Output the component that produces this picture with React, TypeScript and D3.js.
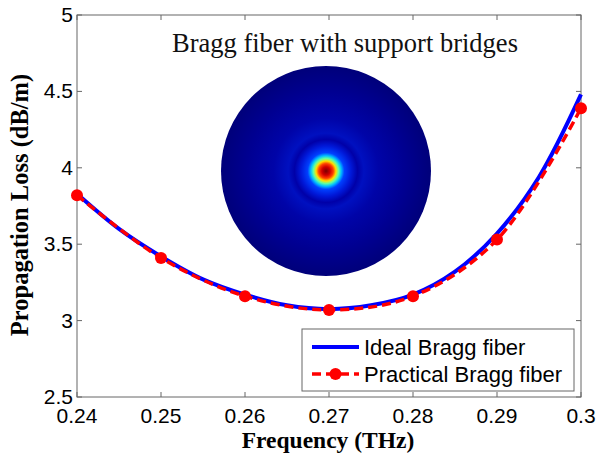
import React from 'react';
import * as d3 from 'd3';

// frequency (THz) and loss (dB/m)
const freq = [0.24, 0.25, 0.26, 0.27, 0.28, 0.29, 0.3];
const practical = [3.82, 3.41, 3.16, 3.07, 3.16, 3.53, 4.39];
const idealFreq = [0.24, 0.245, 0.25, 0.255, 0.26, 0.265, 0.27, 0.275, 0.28, 0.285, 0.29, 0.295, 0.3];
const ideal = [3.83, 3.6, 3.42, 3.27, 3.17, 3.1, 3.075, 3.1, 3.17, 3.32, 3.57, 3.94, 4.48];
const xTicks = [0.24, 0.25, 0.26, 0.27, 0.28, 0.29, 0.3];
const yTicks = [2.5, 3, 3.5, 4, 4.5, 5];
const seriesNames = ['Ideal Bragg fiber', 'Practical Bragg fiber'];

const W = 597;
const H = 459;
const margin = { top: 15, right: 16, bottom: 62, left: 77 };

export default function App() {
  const x = d3.scaleLinear().domain([0.24, 0.3]).range([margin.left, W - margin.right]);
  const y = d3.scaleLinear().domain([2.5, 5]).range([H - margin.bottom, margin.top]);

  const idealLine = d3
    .line<number>()
    .x((_, i) => x(idealFreq[i]))
    .y((d) => y(d))
    .curve(d3.curveCatmullRom);
  const practLine = d3
    .line<number>()
    .x((_, i) => x(freq[i]))
    .y((d) => y(d))
    .curve(d3.curveCatmullRom);

  const x0 = x.range()[0], x1 = x.range()[1];
  const y0 = y.range()[0], y1 = y.range()[1];
  const tick = 5;
  const sans = 'Arial, "Liberation Sans", sans-serif';
  const serif = '"Times New Roman", "Liberation Serif", serif';

  // inset mode picture
  const cx = 326, cy = 171, r = 105;

  return (
    <svg width={W} height={H} style={{ position: 'absolute', left: 0, top: 0, background: '#fff' }}>
      <defs>
        <radialGradient id="mode" cx="50%" cy="50%" r="50%">
          <stop offset="0" stopColor="#7a0000" />
          <stop offset="0.04" stopColor="#d00000" />
          <stop offset="0.07" stopColor="#ff4000" />
          <stop offset="0.095" stopColor="#ffe000" />
          <stop offset="0.12" stopColor="#60ffa0" />
          <stop offset="0.145" stopColor="#00c0ff" />
          <stop offset="0.175" stopColor="#0040ff" />
          <stop offset="0.24" stopColor="#0018d8" />
          <stop offset="0.3" stopColor="#0000a8" />
          <stop offset="0.36" stopColor="#0010c0" />
          <stop offset="0.5" stopColor="#0004a8" />
          <stop offset="0.75" stopColor="#000092" />
          <stop offset="1" stopColor="#00007a" />
        </radialGradient>
      </defs>

      <circle cx={cx} cy={cy} r={r} fill="url(#mode)" />

      <text x={345} y={52} textAnchor="middle" fontFamily={serif} fontSize={26.5} fill="#111">
        Bragg fiber with support bridges
      </text>

      {/* frame */}
      <rect x={x0} y={y1} width={x1 - x0} height={y0 - y1} fill="none" stroke="#666" strokeWidth={1} />

      {xTicks.map((t) => (
        <g key={'x' + t}>
          <line x1={x(t)} x2={x(t)} y1={y0} y2={y0 - tick} stroke="#666" />
          <line x1={x(t)} x2={x(t)} y1={y1} y2={y1 + tick} stroke="#666" />
          <text x={x(t)} y={y0 + 26} textAnchor="middle" fontFamily={sans} fontSize={21}>
            {t}
          </text>
        </g>
      ))}
      {yTicks.map((t) => (
        <g key={'y' + t}>
          <line x1={x0} x2={x0 + tick} y1={y(t)} y2={y(t)} stroke="#666" />
          <line x1={x1} x2={x1 - tick} y1={y(t)} y2={y(t)} stroke="#666" />
          <text x={x0 - 4} y={y(t) + 7} textAnchor="end" fontFamily={sans} fontSize={21}>
            {t}
          </text>
        </g>
      ))}

      <path d={idealLine(ideal) || ''} fill="none" stroke="#0000ff" strokeWidth={4} />
      <path d={practLine(practical) || ''} fill="none" stroke="#ff0000" strokeWidth={3.5} strokeDasharray="9,5" />
      {practical.map((v, i) => (
        <circle key={i} cx={x(freq[i])} cy={y(v)} r={6} fill="#ff0000" />
      ))}

      <text x={328} y={448} textAnchor="middle" fontFamily={serif} fontWeight="bold" fontSize={23.5}>
        Frequency (THz)
      </text>
      <text
        transform={`translate(28, 205) rotate(-90)`}
        textAnchor="middle"
        fontFamily={serif}
        fontWeight="bold"
        fontSize={24.5}
      >
        Propagation Loss (dB/m)
      </text>

      {/* legend */}
      <g>
        <rect x={302} y={329} width={272} height={62} fill="#fff" stroke="#666" />
        <line x1={312} x2={359} y1={347} y2={347} stroke="#0000ff" strokeWidth={4} />
        <text x={364} y={355} fontFamily={sans} fontSize={22}>
          {seriesNames[0]}
        </text>
        <line x1={312} x2={359} y1={374} y2={374} stroke="#ff0000" strokeWidth={3.5} strokeDasharray="9,5" />
        <circle cx={335.5} cy={374} r={6} fill="#ff0000" />
        <text x={364} y={382} fontFamily={sans} fontSize={22}>
          {seriesNames[1]}
        </text>
      </g>
    </svg>
  );
}
